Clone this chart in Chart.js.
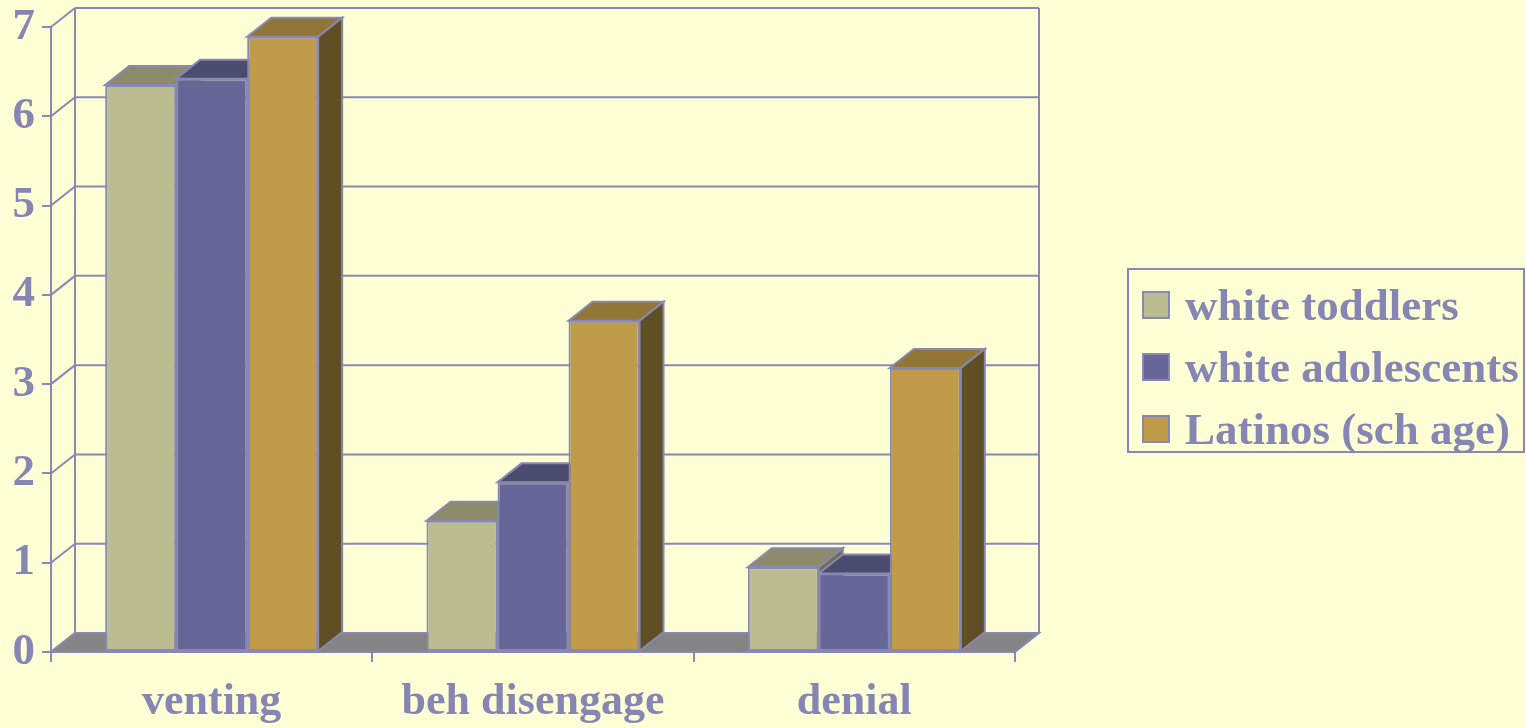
<!DOCTYPE html>
<html>
<head>
<meta charset="utf-8">
<script src="https://cdn.jsdelivr.net/npm/chart.js@4.4.1/dist/chart.umd.min.js"></script>
<style>
  html, body { margin: 0; padding: 0; background: #ffffd6; overflow: hidden; }
  #wrap { position: relative; width: 1526px; height: 728px; }
  #legend {
    position: absolute; left: 1127px; top: 268px; width: 394px; height: 181px;
    border: 2px solid #8888b4; box-sizing: content-box;
  }
  .item { position: absolute; left: 0; height: 62px; display: flex; align-items: center; }
  .swatch { width: 24px; height: 24px; border: 2px solid #8888b4; margin-left: 13px; margin-right: 15px; }
  .label { font: bold 45px "Liberation Serif", "Times New Roman", serif; color: #8686b4; white-space: nowrap; line-height: 62px; }
</style>
</head>
<body>
<div id="wrap">
  <canvas id="chart" width="1526" height="728"></canvas>
  <div id="legend"></div>
</div>
<script>
const categories = ["venting", "beh disengage", "denial"];
const seriesNames = ["white toddlers", "white adolescents", "Latinos (sch age)"];
const toddlers = [6.35, 1.47, 0.95];
const adolescents = [6.42, 1.90, 0.88];
const latinos = [6.89, 3.71, 3.18];
const yTicks = [0, 1, 2, 3, 4, 5, 6, 7];

const LINE = "#8888b4";
const TEXT = "#8686b4";
const FONT = "\"Liberation Serif\", \"Times New Roman\", serif";
const frontColors = ["#bbbd91", "#666699", "#c09c4a"];
const topColors = ["#8c8c6a", "#4c4c70", "#917638"];
const sideColors = ["#6e6e55", "#3c3c5c", "#604e24"];
const DEPTH_X = 24;
const DEPTH_Y = 19;

function polygon(ctx, points, fill) {
  ctx.beginPath();
  ctx.moveTo(points[0][0], points[0][1]);
  for (let i = 1; i < points.length; i++) {
    ctx.lineTo(points[i][0], points[i][1]);
  }
  ctx.closePath();
  if (fill) {
    ctx.fillStyle = fill;
    ctx.fill();
  }
  ctx.stroke();
}

function line(ctx, x0, y0, x1, y1) {
  ctx.beginPath();
  ctx.moveTo(x0, y0);
  ctx.lineTo(x1, y1);
  ctx.stroke();
}

// back wall, side wall, floor and the tops/sides of the bars
const depthPlugin = {
  id: "depth",
  beforeDatasetsDraw(chart) {
    const ctx = chart.ctx;
    const area = chart.chartArea;
    const yScale = chart.scales.y;
    const base = yScale.getPixelForValue(0);

    ctx.save();
    ctx.strokeStyle = LINE;
    ctx.lineWidth = 2;
    ctx.lineJoin = "miter";

    // back wall gridlines and diagonals on the side wall
    yTicks.forEach(tick => {
      const y = yScale.getPixelForValue(tick);
      line(ctx, area.left + DEPTH_X, y - DEPTH_Y, area.right + DEPTH_X, y - DEPTH_Y);
      line(ctx, area.left, y, area.left + DEPTH_X, y - DEPTH_Y);
    });
    const top = yScale.getPixelForValue(yTicks[yTicks.length - 1]);
    line(ctx, area.left + DEPTH_X, top - DEPTH_Y, area.left + DEPTH_X, base - DEPTH_Y);
    line(ctx, area.right + DEPTH_X, top - DEPTH_Y, area.right + DEPTH_X, base - DEPTH_Y);

    // floor
    polygon(ctx, [
      [area.left, base],
      [area.right, base],
      [area.right + DEPTH_X, base - DEPTH_Y],
      [area.left + DEPTH_X, base - DEPTH_Y]
    ], "#848484");

    // bar tops and right sides, left to right
    categories.forEach((_, index) => {
      chart.data.datasets.forEach((dataset, di) => {
        const bar = chart.getDatasetMeta(di).data[index];
        const x0 = bar.x - bar.width / 2;
        const x1 = bar.x + bar.width / 2;
        const yTop = bar.y;
        const yBase = bar.base;
        polygon(ctx, [
          [x0, yTop],
          [x1, yTop],
          [x1 + DEPTH_X, yTop - DEPTH_Y],
          [x0 + DEPTH_X, yTop - DEPTH_Y]
        ], topColors[di]);
        polygon(ctx, [
          [x1, yTop],
          [x1 + DEPTH_X, yTop - DEPTH_Y],
          [x1 + DEPTH_X, yBase - DEPTH_Y],
          [x1, yBase]
        ], sideColors[di]);
      });
    });
    ctx.restore();
  }
};

const seriesValues = [toddlers, adolescents, latinos];

new Chart(document.getElementById("chart"), {
  type: "bar",
  data: {
    labels: categories,
    datasets: seriesNames.map((name, i) => ({
      label: name,
      data: seriesValues[i],
      backgroundColor: frontColors[i],
      borderColor: LINE,
      borderWidth: 2,
      borderSkipped: false,
      categoryPercentage: 0.663,
      barPercentage: 1
    }))
  },
  options: {
    responsive: false,
    animation: false,
    layout: { padding: { top: 27, right: 511, left: 0, bottom: 0 } },
    plugins: {
      legend: { display: false },
      tooltip: { enabled: false }
    },
    scales: {
      x: {
        offset: true,
        grid: { drawOnChartArea: false, drawTicks: true, tickLength: 10, color: LINE, lineWidth: 2 },
        border: { display: true, color: LINE, width: 2 },
        ticks: { color: TEXT, font: { family: FONT, size: 44, weight: "bold" }, padding: 14, maxRotation: 0 },
        afterFit: scale => {
          scale.height = 76;
          scale.paddingLeft = 0;
          scale.paddingRight = 0;
        }
      },
      y: {
        min: 0,
        max: 7,
        afterBuildTicks: scale => { scale.ticks = yTicks.map(v => ({ value: v })); },
        grid: { drawOnChartArea: false, drawTicks: true, tickLength: 9, color: LINE, lineWidth: 2 },
        border: { display: true, color: LINE, width: 2 },
        ticks: { color: TEXT, font: { family: FONT, size: 45, weight: "bold" }, padding: 7 },
        afterFit: scale => {
          scale.width = 51;
          scale.paddingTop = 0;
          scale.paddingBottom = 0;
        }
      }
    }
  },
  plugins: [depthPlugin]
});

const legend = document.getElementById("legend");
seriesNames.forEach((name, i) => {
  const item = document.createElement("div");
  item.className = "item";
  item.style.top = (4 + i * 62) + "px";
  const swatch = document.createElement("div");
  swatch.className = "swatch";
  swatch.style.background = frontColors[i];
  const label = document.createElement("div");
  label.className = "label";
  label.textContent = name;
  item.appendChild(swatch);
  item.appendChild(label);
  legend.appendChild(item);
});
</script>
</body>
</html>
